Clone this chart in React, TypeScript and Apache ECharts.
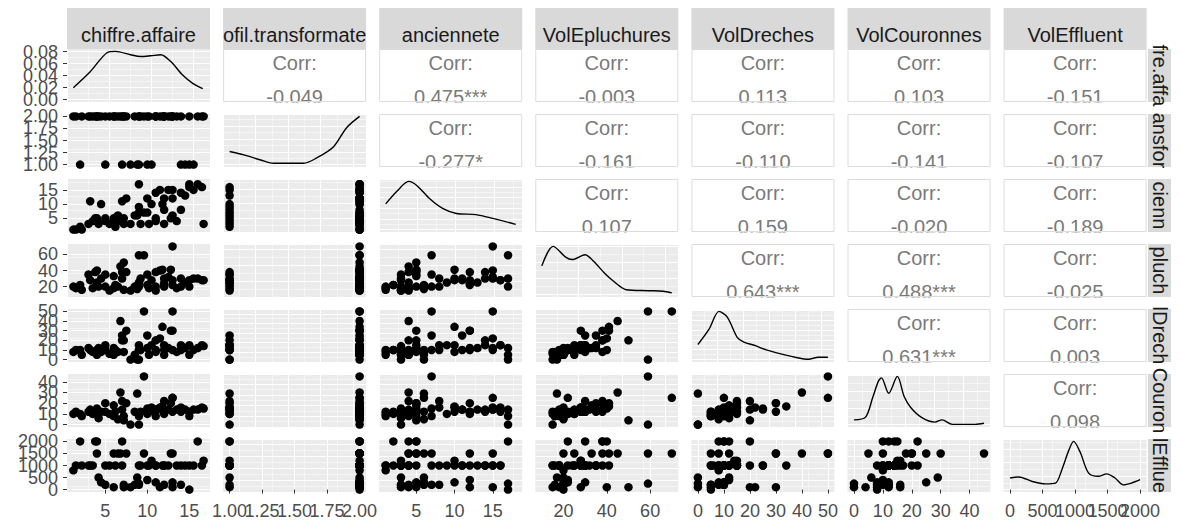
import React, { useEffect, useRef } from 'react';
import * as echarts from 'echarts';

// ---------- variables ----------
const VARIABLES = ['chiffre.affaire', 'profil.transformateur', 'anciennete', 'VolEpluchures', 'VolDreches', 'VolCouronnes', 'VolEffluent'];
const TOP_STRIP_LABELS = ['chiffre.affaire', 'ofil.transformate', 'anciennete', 'VolEpluchures', 'VolDreches', 'VolCouronnes', 'VolEffluent'];
const RIGHT_STRIP_LABELS = ['fre.affa', 'ansfor', 'cienn', 'pluch', 'lDrech', 'Couron', 'lEfflue'];

// ---------- observations (one entry per firm) ----------
const chiffreAffaire = [1.2, 1.5, 2.0, 2.2, 3.0, 3.2, 3.5, 4.0, 4.0, 4.2, 4.5, 5.0, 5.0, 5.5, 6.0, 6.0, 6.2, 6.5, 7.0, 7.0, 7.2, 7.2, 7.5, 8.0, 8.5, 9.0, 9.0, 9.0, 9.2, 9.6, 10.0, 10.0, 10.2, 10.5, 11.0, 11.0, 11.0, 11.5, 12.0, 12.0, 12.0, 12.5, 13.0, 13.0, 13.0, 13.5, 14.0, 14.0, 14.5, 15.0, 15.0, 15.5, 16.0, 16.5, 16.7, 3.8, 6.8, 8.8, 11.8, 12.8];
const profilTransformateur = [2, 2, 1, 2, 2, 2, 2, 2, 2, 2, 2, 1, 2, 2, 2, 2, 2, 2, 1, 2, 2, 2, 2, 1, 2, 2, 1, 2, 2, 2, 1, 2, 2, 1, 2, 2, 2, 2, 2, 2, 2, 2, 2, 2, 2, 2, 2, 1, 1, 1, 2, 1, 2, 2, 2, 2, 2, 1, 2, 2];
const anciennete = [1, 1, 2, 1, 3, 11, 4, 5, 4, 3, 10, 5, 4, 3, 5, 4, 2, 6, 4, 11, 5, 3, 12, 3, 6, 17, 9, 7, 3, 7, 7, 12, 3, 10, 14, 5, 4, 15, 8, 12, 3, 15, 15, 12, 6, 4, 14, 8, 13, 16, 17, 15, 17, 16, 3, 5, 4, 6, 10, 5];
const volEpluchures = [20, 18, 22, 16, 35, 28, 18, 40, 25, 20, 30, 35, 20, 15, 33, 18, 22, 20, 38, 30, 50, 16, 38, 15, 20, 59, 25, 20, 30, 59, 35, 22, 18, 28, 38, 20, 15, 40, 30, 24, 20, 32, 70, 28, 22, 18, 30, 20, 25, 28, 20, 30, 30, 28, 28, 38, 45, 17, 41, 41];
const volDreches = [8, 10, 10, 5, 12, 10, 8, 10, 5, 12, 8, 15, 10, 6, 12, 5, 10, 8, 20, 25, 20, 8, 30, 0, 5, 0, 15, 10, 10, 50, 25, 12, 5, 15, 20, 10, 8, 22, 15, 10, 5, 12, 50, 30, 10, 8, 15, 10, 12, 15, 5, 10, 12, 15, 14, 8, 40, 0, 34, 30];
const volCouronnes = [10, 12, 10, 8, 12, 14, 10, 15, 10, 6, 12, 20, 12, 10, 18, 8, 12, 5, 22, 14, 4, 8, 20, 0, 12, 0, 10, 8, 12, 45, 15, 10, 12, 16, 14, 8, 12, 16, 22, 12, 10, 14, 25, 12, 25, 14, 12, 16, 14, 12, 8, 14, 14, 16, 15, 12, 30, 29, 17, 20];
const volEffluent = [800, 1000, 2000, 1000, 1000, 1000, 1000, 2000, 1500, 500, 300, 1000, 200, 1000, 1500, 100, 1000, 1500, 2000, 1000, 100, 200, 1500, 100, 200, 250, 1000, 200, 1000, 1500, 1000, 400, 1000, 1200, 1000, 300, 1000, 100, 1000, 1000, 200, 1000, 1500, 100, 300, 1000, 1000, 200, 1000, 1000, 0, 1000, 2000, 1000, 1200, 2000, 1500, 500, 1000, 1500];
const VAR_DATA = [chiffreAffaire, profilTransformateur, anciennete, volEpluchures, volDreches, volCouronnes, volEffluent];

// ---------- densities ----------
const densX1 = [1.2, 3.2, 5.2, 6.2, 8.0, 9.2, 10.4, 11.6, 12.8, 14.2, 15.4, 16.6];
const densY1 = [0.0199, 0.0465, 0.0783, 0.0805, 0.0749, 0.072, 0.0732, 0.0749, 0.0635, 0.0409, 0.0272, 0.0182];
const densX2 = [1.0, 1.11, 1.24, 1.34, 1.45, 1.57, 1.67, 1.8, 1.9, 2.0];
const densY2 = [0.51, 0.38, 0.18, 0.05, 0.05, 0.05, 0.26, 0.7, 1.44, 1.88];
const densX3 = [1, 2.5, 4.0, 5.1, 6.8, 8.5, 10.25, 12.8, 15, 18];
const densY3 = [0.048, 0.072, 0.09, 0.082, 0.057, 0.039, 0.03, 0.028, 0.021, 0.0097];
const densX4 = [10, 15.2, 21, 24, 30, 34, 39, 43, 49, 59, 66, 70];
const densY4 = [0.0177, 0.0297, 0.0231, 0.0216, 0.0246, 0.0204, 0.0132, 0.0084, 0.003, 0.0024, 0.0021, 0.00105];
const densX5 = [0, 4.3, 8.1, 11.3, 15.2, 17.7, 22.1, 26, 32.3, 37.4, 42.5, 46.3, 50];
const densY5 = [0.0152, 0.0307, 0.0487, 0.0429, 0.0221, 0.0176, 0.0141, 0.01, 0.0055, 0.0024, 0.0003, 0.0024, 0.0024];
const densX6 = [0, 4, 6.5, 8.5, 9.5, 12, 15, 17.4, 19.7, 23.5, 28, 30.5, 34, 42, 45];
const densY6 = [0.0057, 0.009, 0.033, 0.0528, 0.0564, 0.0378, 0.0582, 0.0336, 0.0204, 0.0084, 0.003, 0.0057, 0.0003, 0.0003, 0.0016];
const densX7 = [0, 137, 340, 545, 698, 798, 901, 977, 1079, 1206, 1359, 1485, 1614, 1740, 1867, 2000];
const densY7 = [0.000257, 0.000281, 0.00018, 0.000128, 0.000144, 0.000448, 0.000865, 0.00107, 0.000828, 0.000372, 0.000295, 0.000349, 0.000257, 0.000105, 0.000144, 0.000219];
const DENS_X = [densX1, densX2, densX3, densX4, densX5, densX6, densX7];
const DENS_Y = [densY1, densY2, densY3, densY4, densY5, densY6, densY7];

// ---------- correlations (upper triangle, row by row) ----------
const corrRow1 = ['-0.049', '0.475***', '-0.003', '0.113', '0.103', '-0.151'];
const corrRow2 = ['-0.277*', '-0.161', '-0.110', '-0.141', '-0.107'];
const corrRow3 = ['0.107', '0.159', '-0.020', '-0.189'];
const corrRow4 = ['0.643***', '0.488***', '-0.025'];
const corrRow5 = ['0.631***', '0.003'];
const corrRow6 = ['0.098'];
const CORR = [corrRow1, corrRow2, corrRow3, corrRow4, corrRow5, corrRow6];

// ---------- axis scales ----------
const AXIS_MIN = [0.44, 0.95, 0.15, 7, -2.5, -2.25, -100];
const AXIS_MAX = [17.46, 2.05, 18.85, 73, 52.5, 47.25, 2100];
const AXIS_INTERVAL = [5, 0.25, 5, 20, 10, 10, 500];
const breaksCA = [5, 10, 15];
const breaksPT = [1, 1.25, 1.5, 1.75, 2];
const breaksANC = [5, 10, 15];
const breaksVP = [20, 40, 60];
const breaksVD = [0, 10, 20, 30, 40, 50];
const breaksVC = [0, 10, 20, 30, 40];
const breaksVE = [0, 500, 1000, 1500, 2000];
const AXIS_BREAKS = [breaksCA, breaksPT, breaksANC, breaksVP, breaksVD, breaksVC, breaksVE];
const AXIS_DECIMALS = [0, 2, 0, 0, 0, 0, 0];
const densityBreaks1 = [0, 0.02, 0.04, 0.06, 0.08];

// ---------- layout ----------
const L0 = 67;
const CSTEP = 156.1;
const PW = 143;
const T0 = 49;
const RSTEP = 65;
const PH = 53;
const FONT = '"Liberation Sans", Arial, Helvetica, sans-serif';
const colLeft = (j: number) => L0 + j * CSTEP;
const rowTop = (i: number) => T0 + i * RSTEP;

const GRID_LINES = {
  splitLine: { show: true, lineStyle: { color: '#FFFFFF', width: 1.1 } },
  minorTick: { show: false, splitNumber: 2 },
  minorSplitLine: { show: true, lineStyle: { color: '#FFFFFF', width: 0.5 } },
};

// main axis: scale, grid lines, ticks; no labels (labels come from label-only axes)
function mainAxis(gridIndex: number, position: string, min: any, max: any, interval: any, ticks: number[] | null) {
  return {
    type: 'value',
    gridIndex,
    position,
    min,
    max,
    ...(interval ? { interval } : { splitNumber: 4 }),
    axisLine: { show: false },
    axisTick: ticks
      ? { show: true, length: 4, lineStyle: { color: '#333333', width: 1 }, customValues: ticks }
      : { show: false },
    axisLabel: { show: false },
    ...GRID_LINES,
  };
}

// one label-only axis per tick value, so ECharts never drops overlapping labels
function labelAxes(gridIndex: number, position: string, min: number, max: number, values: number[], decimals: number, margin: number) {
  return values.map((v) => ({
    type: 'value',
    gridIndex,
    position,
    min,
    max,
    axisLine: { show: false },
    axisTick: { show: false },
    splitLine: { show: false },
    minorSplitLine: { show: false },
    axisLabel: {
      show: true,
      customValues: [v],
      showMinLabel: true,
      showMaxLabel: true,
      formatter: (val: number) => val.toFixed(decimals),
      color: '#4D4D4D',
      fontSize: 18,
      fontFamily: FONT,
      margin,
    },
  }));
}

function buildOption() {
  const grids: any[] = [];
  const xAxes: any[] = [];
  const yAxes: any[] = [];
  const series: any[] = [];
  const graphics: any[] = [];
  const n = VARIABLES.length;
  const d1Max = Math.max(...densY1);
  const d1Min = -0.05 * d1Max;
  const d1Top = 1.05 * d1Max;

  for (let i = 0; i < n; i++) {
    for (let j = 0; j <= i; j++) {
      const g = grids.length;
      grids.push({
        left: colLeft(j),
        top: rowTop(i),
        width: PW,
        height: PH,
        show: true,
        backgroundColor: '#EBEBEB',
        borderWidth: 0,
        containLabel: false,
        outerBoundsMode: 'none',
      });
      const xIdx = xAxes.length;
      const yIdx = yAxes.length;
      const bottom = i === n - 1;
      const left = j === 0;
      xAxes.push(mainAxis(g, 'bottom', AXIS_MIN[j], AXIS_MAX[j], AXIS_INTERVAL[j], bottom ? AXIS_BREAKS[j] : null));
      if (i === j) {
        if (i === 0) {
          yAxes.push(mainAxis(g, 'left', d1Min, d1Top, null, densityBreaks1));
        } else {
          yAxes.push(mainAxis(g, 'left', (e: any) => -0.05 * e.max, (e: any) => 1.05 * e.max, null, null));
        }
        series.push({
          type: 'line',
          xAxisIndex: xIdx,
          yAxisIndex: yIdx,
          data: DENS_X[i].map((x, k) => [x, DENS_Y[i][k]]),
          showSymbol: false,
          symbol: 'none',
          smooth: 0.3,
          lineStyle: { color: '#000000', width: 1.4 },
          silent: true,
        });
      } else {
        yAxes.push(mainAxis(g, 'left', AXIS_MIN[i], AXIS_MAX[i], AXIS_INTERVAL[i], left ? AXIS_BREAKS[i] : null));
        series.push({
          type: 'scatter',
          xAxisIndex: xIdx,
          yAxisIndex: yIdx,
          data: VAR_DATA[j].map((x, k) => [x, VAR_DATA[i][k]]),
          symbol: 'circle',
          symbolSize: 8.5,
          itemStyle: { color: '#000000', opacity: 1 },
          clip: true,
          silent: true,
        });
      }
      if (bottom) {
        xAxes.push(...labelAxes(g, 'bottom', AXIS_MIN[j], AXIS_MAX[j], AXIS_BREAKS[j], AXIS_DECIMALS[j], 10));
      }
      if (left) {
        if (i === 0) {
          yAxes.push(...labelAxes(g, 'left', d1Min, d1Top, densityBreaks1, 2, 9));
        } else {
          yAxes.push(...labelAxes(g, 'left', AXIS_MIN[i], AXIS_MAX[i], AXIS_BREAKS[i], AXIS_DECIMALS[i], 9));
        }
      }
    }
  }

  // upper triangle correlation panels
  for (let i = 0; i < n; i++) {
    for (let j = i + 1; j < n; j++) {
      const x = colLeft(j);
      const y = rowTop(i);
      const cx = x + PW / 2;
      graphics.push({ type: 'rect', silent: true, z: 100, shape: { x, y, width: PW, height: PH }, style: { fill: '#FFFFFF' } });
      graphics.push({ type: 'text', silent: true, z: 101, x: cx, y: y + 14, style: { text: 'Corr:', fill: '#7A7A7A', font: `20px ${FONT}`, align: 'center', verticalAlign: 'middle' } });
      graphics.push({ type: 'text', silent: true, z: 101, x: cx, y: y + 48, style: { text: CORR[i][j - i - 1], fill: '#7A7A7A', font: `20px ${FONT}`, align: 'center', verticalAlign: 'middle' } });
      graphics.push({ type: 'rect', silent: true, z: 102, shape: { x: x - 2, y: y + PH + 0.5, width: PW + 4, height: RSTEP - PH - 1.5 }, style: { fill: '#FFFFFF' } });
      graphics.push({ type: 'rect', silent: true, z: 103, shape: { x: x + 0.5, y: y + 0.5, width: PW - 1, height: PH - 1 }, style: { fill: 'none', stroke: '#DCDCDC', lineWidth: 1 } });
    }
  }

  // top strips
  for (let j = 0; j < n; j++) {
    graphics.push({ type: 'rect', silent: true, z: 100, shape: { x: colLeft(j), y: 8, width: PW, height: 41 }, style: { fill: '#D9D9D9' } });
    graphics.push({ type: 'text', silent: true, z: 101, x: colLeft(j) + PW / 2, y: 34.5, style: { text: TOP_STRIP_LABELS[j], fill: '#1A1A1A', font: `20px ${FONT}`, align: 'center', verticalAlign: 'middle' } });
  }
  // right strips
  for (let i = 0; i < n; i++) {
    graphics.push({ type: 'rect', silent: true, z: 100, shape: { x: 1148, y: rowTop(i), width: 23, height: PH }, style: { fill: '#D9D9D9' } });
    graphics.push({ type: 'text', silent: true, z: 101, x: 1159.5, y: rowTop(i) + PH / 2, rotation: -Math.PI / 2, style: { text: RIGHT_STRIP_LABELS[i], fill: '#1A1A1A', font: `20px ${FONT}`, align: 'center', verticalAlign: 'middle' } });
  }

  return {
    animation: false,
    backgroundColor: '#FFFFFF',
    grid: grids,
    xAxis: xAxes,
    yAxis: yAxes,
    series,
    graphic: { elements: graphics },
  };
}

export default function App() {
  const ref = useRef<HTMLDivElement>(null);
  useEffect(() => {
    document.body.style.margin = '0';
    if (!ref.current) return;
    const chart = echarts.init(ref.current, undefined, { renderer: 'svg' });
    chart.setOption(buildOption() as any);
    return () => chart.dispose();
  }, []);
  return <div ref={ref} style={{ width: 1181, height: 524 }} />;
}
